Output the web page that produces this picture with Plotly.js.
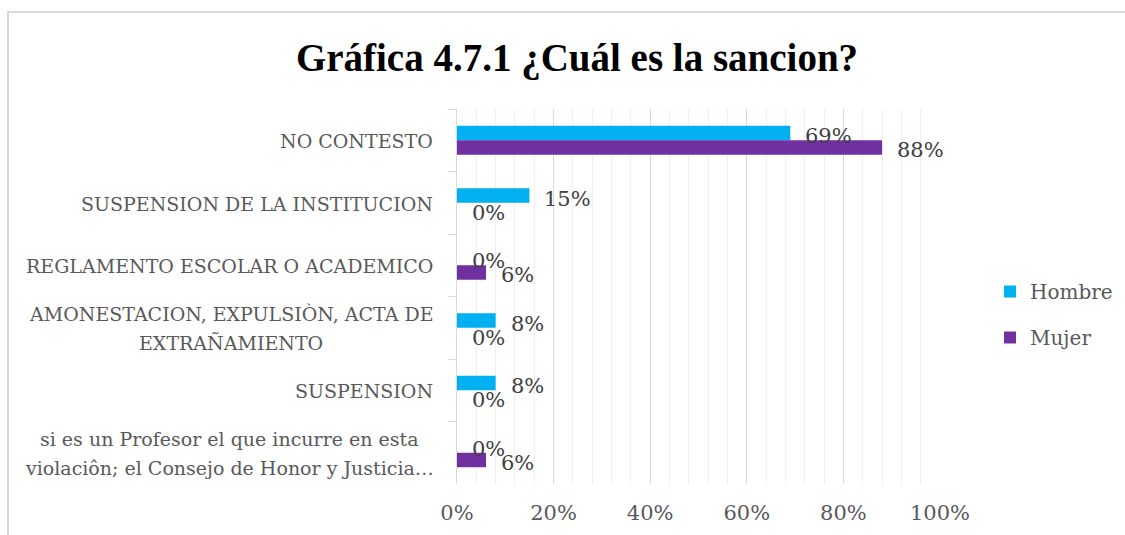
<!DOCTYPE html>
<html>
<head>
<meta charset="utf-8">
<script src="https://cdn.plot.ly/plotly-3.0.1.min.js"></script>
<style>
  html, body { margin: 0; padding: 0; background: #fff; }
  #wrap { position: relative; width: 1125px; height: 535px; overflow: hidden; }
  #chart { position: absolute; left: 0; top: 0; width: 1125px; height: 535px; }
  #frame { position: absolute; left: 7px; top: 11px; width: 1130px; height: 540px;
           border-left: 2px solid #d9d9d9; border-top: 2px solid #d9d9d9; pointer-events: none; }
</style>
</head>
<body>
<div id="wrap"><div id="chart"></div><div id="frame"></div></div>
<script>
// ---- data ----
const chartTitle = 'Gráfica 4.7.1 ¿Cuál es la sancion?';
const categories = [
  'NO CONTESTO',
  'SUSPENSION DE LA INSTITUCION',
  'REGLAMENTO ESCOLAR O ACADEMICO',
  'AMONESTACION, EXPULSIÒN, ACTA DE<br>EXTRAÑAMIENTO',
  'SUSPENSION',
  'si es un Profesor el que incurre en esta<br>violaciôn; el Consejo de Honor y Justicia…'
];
const hombre = [69, 15, 0, 8, 8, 0];
const mujer  = [88, 0, 6, 0, 0, 6];
const seriesNames = ['Hombre', 'Mujer'];
const seriesColors = ['#00B0F0', '#7030A0'];
const xTickVals = [0, 20, 40, 60, 80, 100];

// ---- styling ----
const FONT = '"DejaVu Serif", serif';
const catSize = 19;
const labelColor = '#595959';

const traces = [hombre, mujer].map((vals, i) => ({
  type: 'bar', orientation: 'h',
  name: seriesNames[i],
  legendgroup: 'g' + i,
  x: vals, y: categories,
  marker: { color: seriesColors[i] },
  hoverinfo: 'skip'
}));

const annotations = [];
// data labels
[hombre, mujer].forEach((vals, i) => {
  vals.forEach((v, j) => {
    annotations.push({
      x: v, y: categories[j], xref: 'x', yref: 'y',
      text: v + '%', showarrow: false,
      xanchor: 'left', yanchor: 'middle',
      xshift: 13, yshift: i === 0 ? 4 : -10,
      font: { family: FONT, size: 21, color: '#404040' }
    });
  });
});

// category labels (centered lines)
const cv = document.createElement('canvas').getContext('2d');
cv.font = catSize + 'px "DejaVu Serif"';
const pitch = 29;
categories.forEach((c) => {
  const lines = c.split('<br>');
  const maxW = Math.max(...lines.map(l => cv.measureText(l).width));
  lines.forEach((l, k) => {
    annotations.push({
      x: 0, y: c, xref: 'paper', yref: 'y',
      text: l, showarrow: false,
      xanchor: lines.length > 1 ? 'center' : 'right', yanchor: 'middle',
      xshift: lines.length > 1 ? -24 - maxW / 2 : -22,
      yshift: ((lines.length - 1) / 2 - k) * pitch - 1,
      font: { family: FONT, size: catSize, color: labelColor }
    });
  });
});

const layout = {
  width: 1125, height: 535,
  margin: { l: 457, r: 185, t: 109, b: 51, autoexpand: false },
  paper_bgcolor: '#fff', plot_bgcolor: '#fff',
  title: {
    text: '<b>' + chartTitle + '</b>',
    x: 577 / 1125, xanchor: 'center', xref: 'container',
    y: 1 - 57 / 535, yanchor: 'middle', yref: 'container',
    font: { family: '"Liberation Serif", serif', size: 39, color: '#000' }
  },
  barmode: 'group', bargap: 0.536, bargroupgap: 0,
  xaxis: {
    range: [0, 100], tickvals: xTickVals, ticktext: xTickVals.map(v => v + '%'),
    showgrid: true, gridcolor: '#d9d9d9', gridwidth: 1,
    minor: { dtick: 4, showgrid: true, gridcolor: '#efefef', gridwidth: 1 },
    zeroline: false, showline: false, ticks: '',
    ticklabelstandoff: 14,
    tickfont: { family: FONT, size: 21, color: labelColor },
    fixedrange: true
  },
  yaxis: {
    type: 'category', autorange: 'reversed',
    showticklabels: false, showgrid: false, zeroline: false,
    showline: true, linecolor: '#d9d9d9', linewidth: 1,
    ticks: 'outside', ticklen: 8, tickcolor: '#d9d9d9', tickson: 'boundaries',
    fixedrange: true
  },
  legend: {
    x: 1.1035, xanchor: 'left', y: 0.452, yanchor: 'middle',
    traceorder: 'grouped', tracegroupgap: 17,
    font: { family: FONT, size: 20, color: labelColor },
    bgcolor: 'rgba(0,0,0,0)'
  },
  annotations: annotations,
  showlegend: true
};

Plotly.newPlot('chart', traces, layout, { displayModeBar: false, staticPlot: true });
</script>
</body>
</html>
